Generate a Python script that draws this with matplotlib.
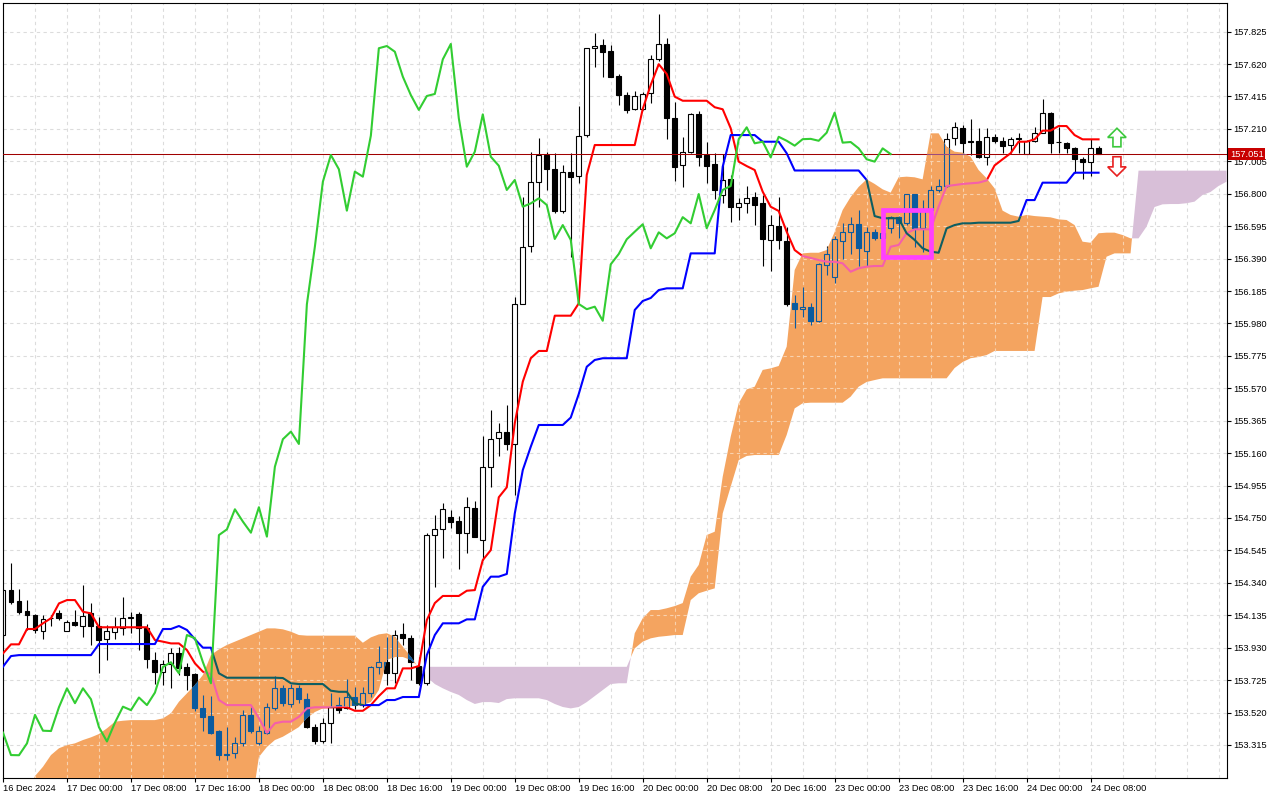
import matplotlib
matplotlib.use("Agg")
import matplotlib.pyplot as plt
import matplotlib.transforms as mtransforms
import numpy as np
from matplotlib.path import Path
from matplotlib.patches import Rectangle, FancyArrow

plt.rcParams['font.family'] = ['Liberation Sans', 'DejaVu Sans']

# H1 candles, 16 Dec 16:00 .. 24 Dec 09:00
opens = [
    154.010, 154.295, 154.225, 154.161, 154.136, 154.037, 154.120, 154.151, 154.035, 154.094,
    154.067, 154.147, 154.067, 153.983, 154.031, 154.056, 154.120, 154.141, 154.056, 153.852,
    153.778, 153.825, 153.898, 153.806, 153.763, 153.546, 153.498, 153.405, 153.260, 153.262,
    153.325, 153.505, 153.330, 153.389, 153.546, 153.673, 153.573, 153.673, 153.604, 153.427,
    153.337, 153.456, 153.567, 153.546, 153.615, 153.567, 153.646, 153.808, 153.838, 153.768,
    154.015, 153.990, 153.814, 153.705, 154.642, 154.678, 154.754, 154.731, 154.653, 154.811,
    154.610, 155.074, 155.254, 155.296, 155.218, 156.101, 156.472, 156.876, 157.045, 156.955,
    156.693, 156.940, 156.912, 157.171, 157.720, 157.740, 157.703, 157.544, 157.424, 157.336,
    157.336, 157.439, 157.650, 157.747, 157.277, 156.982, 157.066, 157.302, 157.045, 156.988,
    156.792, 156.891, 156.718, 156.743, 156.778, 156.743, 156.508, 156.596, 156.501, 156.107,
    156.074, 156.082, 155.997, 156.350, 156.272, 156.503, 156.560, 156.607, 156.440, 156.556,
    156.520, 156.582, 156.652, 156.613, 156.798, 156.582, 156.697, 156.824, 156.849, 157.151,
    157.214, 157.135, 157.133, 157.034, 157.160, 157.135, 157.108, 157.150, 157.052, 157.135,
    157.186, 157.313, 157.130, 157.119, 157.087, 157.018, 157.003, 157.091,
]
highs = [
    154.300, 154.468, 154.299, 154.231, 154.140, 154.136, 154.136, 154.168, 154.104, 154.168,
    154.326, 154.210, 154.125, 154.073, 154.125, 154.252, 154.157, 154.157, 154.079, 153.904,
    153.852, 153.926, 153.932, 153.831, 153.771, 153.630, 153.627, 153.410, 153.426, 153.367,
    153.537, 153.557, 153.435, 153.579, 153.751, 153.694, 153.698, 153.694, 153.642, 153.447,
    153.485, 153.642, 153.620, 153.731, 153.684, 153.684, 153.812, 153.942, 154.000, 154.041,
    154.085, 154.010, 153.874, 154.657, 154.769, 154.844, 154.800, 154.760, 154.885, 154.860,
    155.270, 155.433, 155.350, 155.465, 156.149, 156.781, 157.066, 157.151, 157.066, 157.060,
    156.982, 157.056, 157.355, 157.720, 157.814, 157.777, 157.740, 157.557, 157.445, 157.452,
    157.445, 157.678, 157.936, 157.783, 157.382, 157.157, 157.313, 157.323, 157.129, 157.056,
    157.052, 156.919, 156.771, 156.849, 156.813, 156.792, 156.666, 156.778, 156.592, 156.160,
    156.212, 156.111, 156.360, 156.470, 156.533, 156.613, 156.651, 156.697, 156.588, 156.575,
    156.600, 156.659, 156.660, 156.800, 156.800, 156.760, 156.849, 156.891, 157.186, 157.256,
    157.235, 157.270, 157.214, 157.214, 157.178, 157.160, 157.157, 157.182, 157.140, 157.224,
    157.397, 157.316, 157.220, 157.129, 157.097, 157.034, 157.145, 157.102,
]
lows = [
    154.000, 154.206, 154.143, 154.041, 154.024, 153.983, 154.067, 154.104, 154.035, 154.067,
    153.997, 153.946, 153.771, 153.852, 153.983, 154.012, 154.020, 153.915, 153.800, 153.699,
    153.694, 153.673, 153.757, 153.662, 153.529, 153.400, 153.384, 153.220, 153.220, 153.230,
    153.310, 153.389, 153.315, 153.383, 153.535, 153.560, 153.554, 153.579, 153.420, 153.322,
    153.327, 153.327, 153.520, 153.540, 153.540, 153.557, 153.620, 153.763, 153.694, 153.705,
    153.946, 153.725, 153.694, 153.694, 154.315, 154.495, 154.688, 154.425, 154.527, 154.630,
    154.484, 154.945, 155.140, 155.180, 154.895, 156.100, 156.434, 156.718, 156.824, 156.676,
    156.680, 156.398, 156.870, 157.157, 157.600, 157.540, 157.536, 157.361, 157.312, 157.330,
    157.330, 157.372, 157.640, 157.144, 156.882, 156.841, 157.060, 156.975, 156.866, 156.765,
    156.740, 156.619, 156.634, 156.676, 156.602, 156.343, 156.313, 156.449, 156.090, 155.950,
    156.023, 155.970, 155.990, 156.286, 156.238, 156.385, 156.419, 156.343, 156.343, 156.508,
    156.500, 156.554, 156.518, 156.600, 156.462, 156.434, 156.434, 156.814, 156.840, 157.108,
    157.056, 157.045, 157.024, 156.982, 157.119, 157.056, 157.056, 157.060, 157.050, 157.130,
    157.182, 157.056, 157.060, 157.060, 156.933, 156.892, 156.912, 157.051,
]
closes = [
    154.295, 154.218, 154.157, 154.134, 154.041, 154.109, 154.115, 154.115, 154.094, 154.073,
    154.130, 154.067, 153.978, 154.035, 154.062, 154.119, 154.125, 154.056, 153.856, 153.778,
    153.825, 153.894, 153.800, 153.757, 153.546, 153.494, 153.393, 153.251, 153.250, 153.325,
    153.505, 153.405, 153.403, 153.554, 153.673, 153.579, 153.673, 153.604, 153.427, 153.337,
    153.456, 153.557, 153.535, 153.615, 153.567, 153.646, 153.808, 153.838, 153.768, 154.010,
    153.990, 153.838, 153.705, 154.642, 154.678, 154.805, 154.727, 154.657, 154.818, 154.632,
    155.074, 155.248, 155.296, 155.218, 156.101, 156.465, 156.876, 157.045, 156.955, 156.693,
    156.940, 156.908, 157.167, 157.720, 157.734, 157.698, 157.540, 157.424, 157.330, 157.418,
    157.431, 157.650, 157.747, 157.277, 156.971, 157.066, 157.302, 157.034, 156.977, 156.824,
    156.887, 156.718, 156.739, 156.771, 156.729, 156.514, 156.602, 156.508, 156.103, 156.070,
    156.086, 155.997, 156.354, 156.419, 156.512, 156.560, 156.607, 156.455, 156.556, 156.518,
    156.550, 156.652, 156.613, 156.798, 156.582, 156.697, 156.824, 156.849, 157.145, 157.220,
    157.119, 157.129, 157.030, 157.160, 157.135, 157.104, 157.145, 157.147, 157.135, 157.186,
    157.313, 157.123, 157.127, 157.087, 157.018, 157.003, 157.087, 157.051,
]

# Ichimoku lines
tenkan = [
    153.894, 153.951, 153.951, 154.048, 154.048, 154.084, 154.116, 154.210, 154.231, 154.231,
    154.157, 154.147, 154.059, 154.059, 154.059, 154.059, 154.059, 154.059, 154.059, 153.978,
    153.968, 153.957, 153.957, 153.915, 153.831, 153.778, 153.763, 153.599, 153.567, 153.567,
    153.567, 153.567, 153.485, 153.392, 153.452, 153.462, 153.462, 153.493, 153.546, 153.553,
    153.553, 153.553, 153.553, 153.553, 153.531, 153.531, 153.567, 153.624, 153.673, 153.673,
    153.799, 153.799, 153.814, 154.105, 154.212, 154.257, 154.257, 154.257, 154.290, 154.294,
    154.484, 154.547, 154.881, 154.944, 155.350, 155.612, 155.760, 155.806, 155.806, 156.029,
    156.029, 156.029, 156.107, 156.919, 157.108, 157.108, 157.108, 157.108, 157.108, 157.108,
    157.336, 157.488, 157.619, 157.557, 157.414, 157.388, 157.388, 157.388, 157.388, 157.347,
    157.334, 157.214, 157.003, 156.975, 156.950, 156.813, 156.718, 156.691, 156.560, 156.444,
    156.406, 156.394, 156.381, 156.370, 156.370, 156.360, 156.307, 156.329, 156.339, 156.343,
    156.343, 156.465, 156.476, 156.550, 156.575, 156.575, 156.575, 156.718, 156.849, 156.855,
    156.862, 156.866, 156.870, 156.884, 156.979, 157.018, 157.056, 157.129, 157.129, 157.144,
    157.199, 157.199, 157.228, 157.228, 157.171, 157.144, 157.144, 157.144,
]
kijun = [
    153.810, 153.877, 153.883, 153.883, 153.883, 153.883, 153.883, 153.883, 153.883, 153.883,
    153.883, 153.883, 153.953, 153.953, 153.953, 153.953, 153.953, 153.953, 153.953, 153.953,
    154.048, 154.048, 154.067, 154.042, 153.983, 153.930, 153.930, 153.768, 153.740, 153.740,
    153.740, 153.740, 153.740, 153.740, 153.740, 153.738, 153.705, 153.700, 153.700, 153.700,
    153.700, 153.658, 153.651, 153.651, 153.578, 153.567, 153.567, 153.567, 153.599, 153.599,
    153.618, 153.618, 153.618, 153.883, 154.010, 154.084, 154.084, 154.084, 154.109, 154.109,
    154.315, 154.379, 154.379, 154.396, 154.779, 155.053, 155.201, 155.338, 155.338, 155.338,
    155.338, 155.385, 155.534, 155.706, 155.749, 155.760, 155.760, 155.760, 155.760, 156.065,
    156.122, 156.141, 156.191, 156.202, 156.202, 156.202, 156.423, 156.423, 156.423, 156.423,
    156.971, 157.171, 157.171, 157.171, 157.171, 157.129, 157.129, 157.129, 157.056, 156.947,
    156.947, 156.947, 156.947, 156.947, 156.947, 156.947, 156.947, 156.947, 156.887, 156.659,
    156.645, 156.645, 156.645, 156.550, 156.508, 156.455, 156.434, 156.427, 156.581, 156.602,
    156.613, 156.613, 156.617, 156.617, 156.617, 156.617, 156.617, 156.628, 156.760, 156.760,
    156.870, 156.870, 156.870, 156.870, 156.933, 156.933, 156.933, 156.933,
]
# cloud spans, shifted 26 bars ahead (visible part up to bar 153)
span_a = [
    153.000, 153.000, 153.000, 153.000, 153.118, 153.177, 153.251, 153.294, 153.314, 153.325,
    153.346, 153.363, 153.384, 153.420, 153.462, 153.468, 153.472, 153.472, 153.472, 153.472,
    153.483, 153.515, 153.588, 153.641, 153.694, 153.757, 153.883, 153.919, 153.947, 153.968,
    153.989, 154.010, 154.031, 154.052, 154.052, 154.046, 154.031, 154.010, 154.006, 154.006,
    154.006, 154.006, 154.006, 154.006, 154.006, 153.961, 153.995, 154.014, 154.021, 153.999,
    153.936, 153.873, 153.801, 153.744, 153.700, 153.673, 153.650, 153.631, 153.599, 153.574,
    153.586, 153.586, 153.580, 153.605, 153.610, 153.610, 153.610, 153.610, 153.599, 153.574,
    153.555, 153.546, 153.555, 153.586, 153.624, 153.662, 153.700, 153.705, 153.705, 154.021,
    154.116, 154.168, 154.168, 154.179, 154.193, 154.212, 154.379, 154.453, 154.642, 154.663,
    155.011, 155.264, 155.475, 155.563, 155.580, 155.686, 155.696, 155.711, 155.833, 156.318,
    156.423, 156.427, 156.427, 156.444, 156.558, 156.697, 156.779, 156.843, 156.891, 156.862,
    156.828, 156.807, 156.904, 156.908, 156.904, 156.891, 157.182, 157.182, 157.097, 157.066,
    157.060, 157.034, 156.950, 156.898, 156.834, 156.693, 156.666, 156.655, 156.666, 156.659,
    156.655, 156.651, 156.638, 156.634, 156.602, 156.497, 156.490, 156.550, 156.554, 156.554,
    156.539, 156.518, 156.518, 156.592, 156.716, 156.733, 156.735, 156.735, 156.740, 156.750,
    156.792, 156.811, 156.849, 156.876,
]
span_b = (
    [152.900] * 32
    + [153.239, 153.302, 153.346, 153.367, 153.397, 153.428, 153.485, 153.523,
       153.546, 153.552, 153.555, 153.557, 153.563, 153.567, 153.586, 153.662, 153.852, 153.871,
       153.871, 153.852]
    + [153.809] * 27
    + [153.926, 153.968, 153.989, 153.999, 154.004, 154.010, 154.010, 154.231, 154.274, 154.290,
       154.305, 154.779, 154.948, 155.116, 155.142, 155.148, 155.148, 155.148, 155.148, 155.275,
       155.443, 155.475, 155.479, 155.479, 155.479, 155.479, 155.479, 155.517, 155.580, 155.610,
       155.622]
    + [155.633] * 9
    + [155.698, 155.736, 155.760, 155.768, 155.780]
    + [155.806] * 6
    + [156.147, 156.147, 156.170, 156.181, 156.187, 156.191, 156.202, 156.212, 156.402, 156.423,
       156.423, 156.423]
    + [156.946] * 12
)

current_price = 157.051
chikou_shift = 26
x_tick_labels = ['16 Dec 2024', '17 Dec 00:00', '17 Dec 08:00', '17 Dec 16:00', '18 Dec 00:00',
                 '18 Dec 08:00', '18 Dec 16:00', '19 Dec 00:00', '19 Dec 08:00', '19 Dec 16:00',
                 '20 Dec 00:00', '20 Dec 08:00', '20 Dec 16:00', '23 Dec 00:00', '23 Dec 08:00',
                 '23 Dec 16:00', '24 Dec 00:00', '24 Dec 08:00']
box_bars = (110, 116)
box_prices = (156.400, 156.699)

# colours
SAND = '#F4A460'
THISTLE = '#D8BFD8'
IN_CLOUD = '#0B5B9F'

o, h, l, c = (np.array(v) for v in (opens, highs, lows, closes))
idx = np.arange(len(c))
cx = np.arange(len(span_a))
sa, sb = np.array(span_a), np.array(span_b)
up = c >= o

fig = plt.figure(figsize=(12.8, 8), dpi=100)
ax = fig.add_axes([3 / 1280, 22 / 800, 1224 / 1280, 775 / 800])
x_lo, x_hi = 0.0625, 153.0625
y_lo, y_hi = 153.106, 158.006
ax.set_xlim(x_lo, x_hi)
ax.set_ylim(y_lo, y_hi)

y_ticks = np.round(153.315 + 0.205 * np.arange(23), 3)
grid_x = np.arange(0, 154, 4)

# clouds
ax.fill_between(cx, sa, sb, where=sb > sa, interpolate=True,
                facecolor=THISTLE, edgecolor='none', lw=0, zorder=1)
orange = ax.fill_between(cx, sa, sb, where=sa >= sb, interpolate=True,
                         facecolor=SAND, edgecolor='none', lw=0, zorder=4)
cloud_path = Path.make_compound_path(*orange.get_paths())


def clip(artists):
    for a in artists:
        a.set_clip_path(cloud_path, ax.transData)


def draw_grid(color, z):
    hl = ax.hlines(y_ticks, x_lo, x_hi, colors=color, linestyles=(0, (3, 3)), lw=0.8, zorder=z)
    vl = ax.vlines(grid_x, y_lo, y_hi, colors=color, linestyles=(0, (3, 3)), lw=0.8, zorder=z)
    return [hl, vl]


def draw_candles(wick, bull_face, bear_face, edge, z):
    w = ax.vlines(idx, l, h, colors=wick, lw=0.8, zorder=z)
    faces = [bull_face if u else bear_face for u in up]
    bars = ax.bar(idx, c - o, bottom=o, width=0.62, color=faces,
                  edgecolor=edge, linewidth=0.8, zorder=z + 0.1)
    return [w] + list(bars.patches)


draw_grid('#DCDCDC', 0.5)
clip(draw_grid('#F9D2AE', 4.5))

# normal candles, then the blue copy where they sit inside the sand cloud
draw_candles('black', 'white', 'black', 'black', 2)
clip(draw_candles(IN_CLOUD, SAND, IN_CLOUD, IN_CLOUD, 5))

ax.axhline(current_price, color='#A00000', lw=0.75, zorder=3)
clip([ax.axhline(current_price, color='#9C4C7C', lw=0.75, zorder=5.4)])

ax.plot(idx, tenkan, color='#FF0000', lw=1.5, zorder=3.2)
ax.plot(idx, kijun, color='#0000FF', lw=1.5, zorder=3.2)
clip(ax.plot(idx, tenkan, color='#F55FAA', lw=1.5, zorder=5.5))
clip(ax.plot(idx, kijun, color='#0E5E62', lw=1.5, zorder=5.5))

# chikou span: close plotted 26 bars back
ax.plot(idx[chikou_shift:] - chikou_shift, c[chikou_shift:], color='#32CD32', lw=1.5, zorder=6)

ax.add_patch(Rectangle((box_bars[0], box_prices[0]), box_bars[1] - box_bars[0],
                       box_prices[1] - box_prices[0], fill=False,
                       edgecolor='#FF40FF', lw=3.4, zorder=7))

ax.add_patch(FancyArrow(139.3, 157.097, 0, 0.117, width=1.0, head_width=2.3, head_length=0.058,
                        length_includes_head=True, facecolor='white', edgecolor='#3CC83C',
                        lw=1.2, zorder=8))
ax.add_patch(FancyArrow(139.3, 157.034, 0, -0.122, width=1.0, head_width=2.3, head_length=0.058,
                        length_includes_head=True, facecolor='white', edgecolor='#E82020',
                        lw=1.2, zorder=8))

# axes styling
for s in ax.spines.values():
    s.set_color('black')
    s.set_linewidth(0.8)
ax.yaxis.tick_right()
ax.set_yticks(y_ticks)
ax.set_yticklabels([f'{v:.3f}' for v in y_ticks])
ax.set_xticks(idx[::8])
ax.set_xticklabels(x_tick_labels, ha='left')
ax.tick_params(axis='both', direction='out', length=3, width=0.8, labelsize=6.7,
               colors='black', pad=1.5)

trans = mtransforms.blended_transform_factory(ax.transAxes, ax.transData)
ax.text(1.0025, current_price, f'{current_price:.3f}', transform=trans, color='white',
        fontsize=6.7, ha='left', va='center', zorder=10, clip_on=False,
        bbox=dict(boxstyle='square,pad=0.18', facecolor='#C80000', edgecolor='none'))

fig.savefig('out.png', dpi=100, facecolor='white')
plt.close(fig)
